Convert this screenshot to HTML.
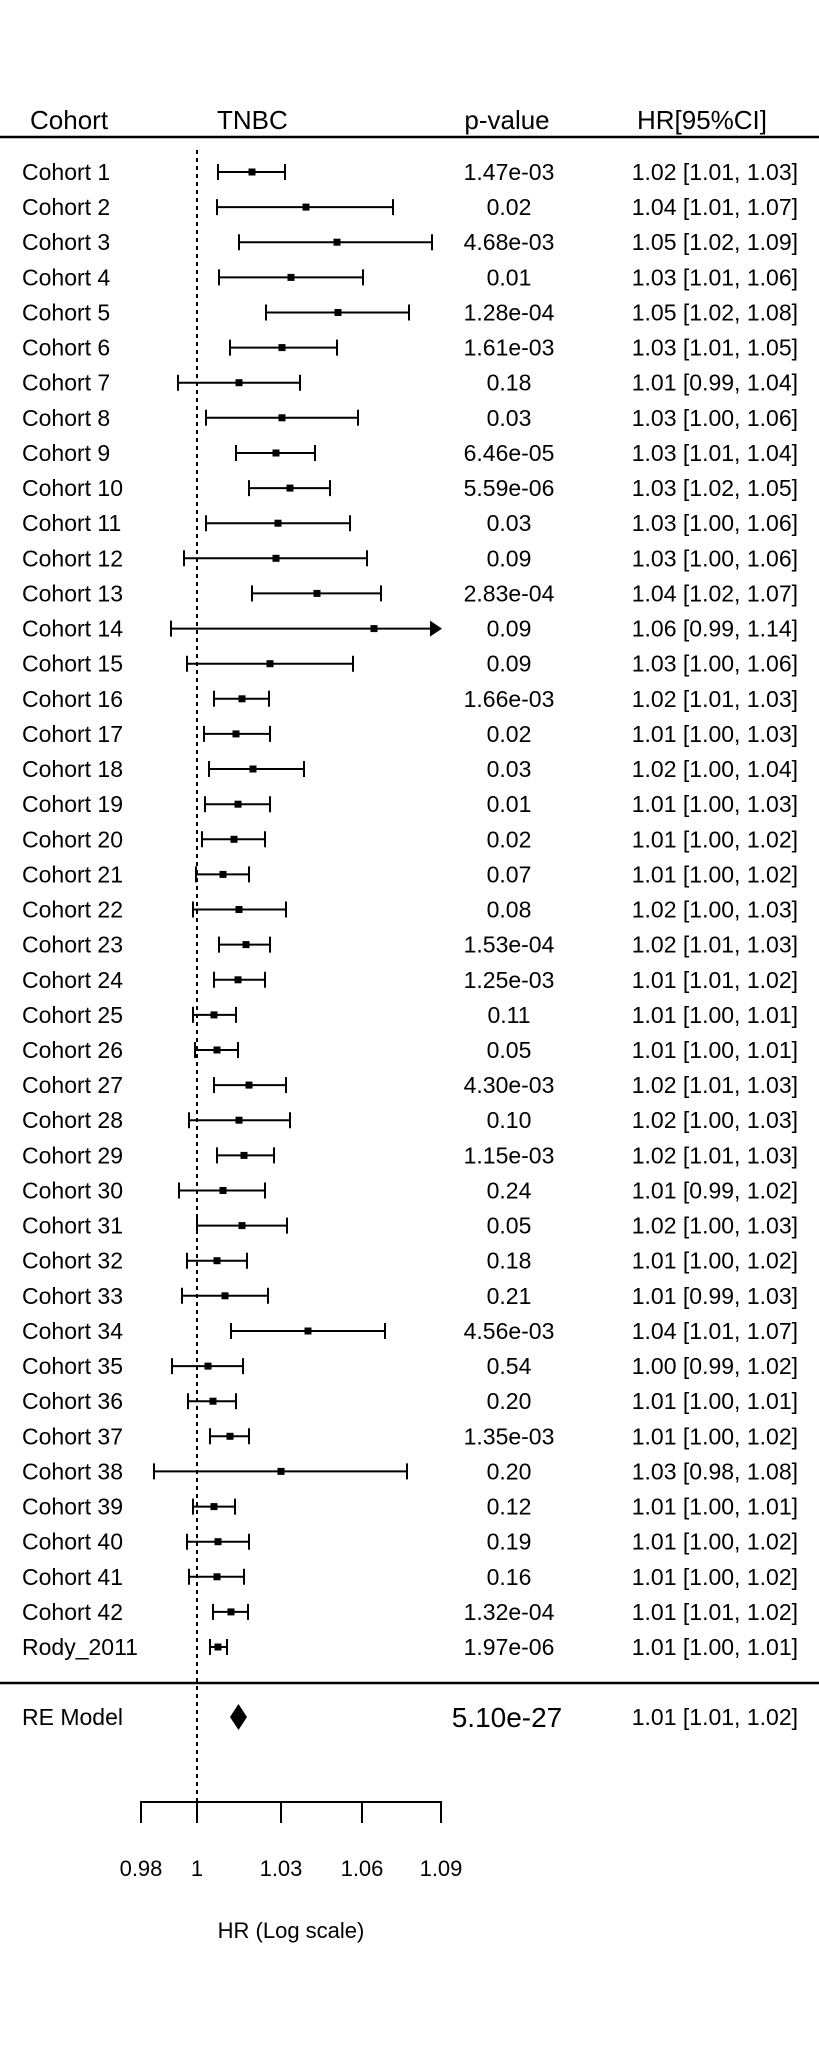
<!DOCTYPE html>
<html><head><meta charset="utf-8"><style>
html,body{margin:0;padding:0;background:#fff;}
svg{display:block;}
text{font-family:"Liberation Sans",Arial,sans-serif;fill:#000;font-size:23px;}
.p{text-anchor:middle;}
.h{text-anchor:end;}
path{stroke:#000;stroke-width:2;fill:none;}
</style></head><body>
<svg width="819" height="2048" viewBox="0 0 819 2048" xmlns="http://www.w3.org/2000/svg">
<g style="font-size:26px">
<text x="30" y="129" style="font-size:26px">Cohort</text>
<text x="217" y="129" style="font-size:26px">TNBC</text>
<text x="507" y="129" class="p" style="font-size:26px">p-value</text>
<text x="702" y="129" class="p" style="font-size:26px">HR[95%CI]</text>
</g>
<line x1="0" y1="137" x2="819" y2="137" stroke="#000" stroke-width="2.5"/>
<line x1="0" y1="1683" x2="819" y2="1683" stroke="#000" stroke-width="2.5"/>
<line x1="197" y1="150" x2="197" y2="1802" stroke="#000" stroke-width="2" stroke-dasharray="4,4"/>

<g transform="translate(0,172)"><text x="22" y="8">Cohort 1</text><text x="509" y="8" class="p">1.47e-03</text><text x="798" y="8" class="h">1.02 [1.01, 1.03]</text><path d="M218 -8V8M218 0H285M285 -8V8"/><rect x="248.5" y="-3.5" width="7" height="7"/></g>
<g transform="translate(0,207.1)"><text x="22" y="8">Cohort 2</text><text x="509" y="8" class="p">0.02</text><text x="798" y="8" class="h">1.04 [1.01, 1.07]</text><path d="M217 -8V8M217 0H393M393 -8V8"/><rect x="302.5" y="-3.5" width="7" height="7"/></g>
<g transform="translate(0,242.2)"><text x="22" y="8">Cohort 3</text><text x="509" y="8" class="p">4.68e-03</text><text x="798" y="8" class="h">1.05 [1.02, 1.09]</text><path d="M239 -8V8M239 0H432M432 -8V8"/><rect x="333.5" y="-3.5" width="7" height="7"/></g>
<g transform="translate(0,277.4)"><text x="22" y="8">Cohort 4</text><text x="509" y="8" class="p">0.01</text><text x="798" y="8" class="h">1.03 [1.01, 1.06]</text><path d="M219 -8V8M219 0H363M363 -8V8"/><rect x="287.5" y="-3.5" width="7" height="7"/></g>
<g transform="translate(0,312.5)"><text x="22" y="8">Cohort 5</text><text x="509" y="8" class="p">1.28e-04</text><text x="798" y="8" class="h">1.05 [1.02, 1.08]</text><path d="M266 -8V8M266 0H409M409 -8V8"/><rect x="334.5" y="-3.5" width="7" height="7"/></g>
<g transform="translate(0,347.6)"><text x="22" y="8">Cohort 6</text><text x="509" y="8" class="p">1.61e-03</text><text x="798" y="8" class="h">1.03 [1.01, 1.05]</text><path d="M230 -8V8M230 0H337M337 -8V8"/><rect x="278.5" y="-3.5" width="7" height="7"/></g>
<g transform="translate(0,382.7)"><text x="22" y="8">Cohort 7</text><text x="509" y="8" class="p">0.18</text><text x="798" y="8" class="h">1.01 [0.99, 1.04]</text><path d="M178 -8V8M178 0H300M300 -8V8"/><rect x="235.5" y="-3.5" width="7" height="7"/></g>
<g transform="translate(0,417.8)"><text x="22" y="8">Cohort 8</text><text x="509" y="8" class="p">0.03</text><text x="798" y="8" class="h">1.03 [1.00, 1.06]</text><path d="M206 -8V8M206 0H358M358 -8V8"/><rect x="278.5" y="-3.5" width="7" height="7"/></g>
<g transform="translate(0,453)"><text x="22" y="8">Cohort 9</text><text x="509" y="8" class="p">6.46e-05</text><text x="798" y="8" class="h">1.03 [1.01, 1.04]</text><path d="M236 -8V8M236 0H315M315 -8V8"/><rect x="272.5" y="-3.5" width="7" height="7"/></g>
<g transform="translate(0,488.1)"><text x="22" y="8">Cohort 10</text><text x="509" y="8" class="p">5.59e-06</text><text x="798" y="8" class="h">1.03 [1.02, 1.05]</text><path d="M249 -8V8M249 0H330M330 -8V8"/><rect x="286.5" y="-3.5" width="7" height="7"/></g>
<g transform="translate(0,523.2)"><text x="22" y="8">Cohort 11</text><text x="509" y="8" class="p">0.03</text><text x="798" y="8" class="h">1.03 [1.00, 1.06]</text><path d="M206 -8V8M206 0H350M350 -8V8"/><rect x="274.5" y="-3.5" width="7" height="7"/></g>
<g transform="translate(0,558.3)"><text x="22" y="8">Cohort 12</text><text x="509" y="8" class="p">0.09</text><text x="798" y="8" class="h">1.03 [1.00, 1.06]</text><path d="M184 -8V8M184 0H367M367 -8V8"/><rect x="272.5" y="-3.5" width="7" height="7"/></g>
<g transform="translate(0,593.4)"><text x="22" y="8">Cohort 13</text><text x="509" y="8" class="p">2.83e-04</text><text x="798" y="8" class="h">1.04 [1.02, 1.07]</text><path d="M252 -8V8M252 0H381M381 -8V8"/><rect x="313.5" y="-3.5" width="7" height="7"/></g>
<g transform="translate(0,628.6)"><text x="22" y="8">Cohort 14</text><text x="509" y="8" class="p">0.09</text><text x="798" y="8" class="h">1.06 [0.99, 1.14]</text><path d="M171 -8V8M171 0H432"/><polygon points="430,-8 442,0 430,8" fill="#000"/><rect x="370.5" y="-3.5" width="7" height="7"/></g>
<g transform="translate(0,663.7)"><text x="22" y="8">Cohort 15</text><text x="509" y="8" class="p">0.09</text><text x="798" y="8" class="h">1.03 [1.00, 1.06]</text><path d="M187 -8V8M187 0H353M353 -8V8"/><rect x="266.5" y="-3.5" width="7" height="7"/></g>
<g transform="translate(0,698.8)"><text x="22" y="8">Cohort 16</text><text x="509" y="8" class="p">1.66e-03</text><text x="798" y="8" class="h">1.02 [1.01, 1.03]</text><path d="M214 -8V8M214 0H269M269 -8V8"/><rect x="238.5" y="-3.5" width="7" height="7"/></g>
<g transform="translate(0,733.9)"><text x="22" y="8">Cohort 17</text><text x="509" y="8" class="p">0.02</text><text x="798" y="8" class="h">1.01 [1.00, 1.03]</text><path d="M204 -8V8M204 0H270M270 -8V8"/><rect x="232.5" y="-3.5" width="7" height="7"/></g>
<g transform="translate(0,769)"><text x="22" y="8">Cohort 18</text><text x="509" y="8" class="p">0.03</text><text x="798" y="8" class="h">1.02 [1.00, 1.04]</text><path d="M209 -8V8M209 0H304M304 -8V8"/><rect x="249.5" y="-3.5" width="7" height="7"/></g>
<g transform="translate(0,804.2)"><text x="22" y="8">Cohort 19</text><text x="509" y="8" class="p">0.01</text><text x="798" y="8" class="h">1.01 [1.00, 1.03]</text><path d="M205 -8V8M205 0H270M270 -8V8"/><rect x="234.5" y="-3.5" width="7" height="7"/></g>
<g transform="translate(0,839.3)"><text x="22" y="8">Cohort 20</text><text x="509" y="8" class="p">0.02</text><text x="798" y="8" class="h">1.01 [1.00, 1.02]</text><path d="M202 -8V8M202 0H265M265 -8V8"/><rect x="230.5" y="-3.5" width="7" height="7"/></g>
<g transform="translate(0,874.4)"><text x="22" y="8">Cohort 21</text><text x="509" y="8" class="p">0.07</text><text x="798" y="8" class="h">1.01 [1.00, 1.02]</text><path d="M196 -8V8M196 0H249M249 -8V8"/><rect x="219.5" y="-3.5" width="7" height="7"/></g>
<g transform="translate(0,909.5)"><text x="22" y="8">Cohort 22</text><text x="509" y="8" class="p">0.08</text><text x="798" y="8" class="h">1.02 [1.00, 1.03]</text><path d="M193 -8V8M193 0H286M286 -8V8"/><rect x="235.5" y="-3.5" width="7" height="7"/></g>
<g transform="translate(0,944.6)"><text x="22" y="8">Cohort 23</text><text x="509" y="8" class="p">1.53e-04</text><text x="798" y="8" class="h">1.02 [1.01, 1.03]</text><path d="M219 -8V8M219 0H270M270 -8V8"/><rect x="242.5" y="-3.5" width="7" height="7"/></g>
<g transform="translate(0,979.8)"><text x="22" y="8">Cohort 24</text><text x="509" y="8" class="p">1.25e-03</text><text x="798" y="8" class="h">1.01 [1.01, 1.02]</text><path d="M214 -8V8M214 0H265M265 -8V8"/><rect x="234.5" y="-3.5" width="7" height="7"/></g>
<g transform="translate(0,1014.9)"><text x="22" y="8">Cohort 25</text><text x="509" y="8" class="p">0.11</text><text x="798" y="8" class="h">1.01 [1.00, 1.01]</text><path d="M193 -8V8M193 0H236M236 -8V8"/><rect x="210.5" y="-3.5" width="7" height="7"/></g>
<g transform="translate(0,1050)"><text x="22" y="8">Cohort 26</text><text x="509" y="8" class="p">0.05</text><text x="798" y="8" class="h">1.01 [1.00, 1.01]</text><path d="M195 -8V8M195 0H238M238 -8V8"/><rect x="213.5" y="-3.5" width="7" height="7"/></g>
<g transform="translate(0,1085.1)"><text x="22" y="8">Cohort 27</text><text x="509" y="8" class="p">4.30e-03</text><text x="798" y="8" class="h">1.02 [1.01, 1.03]</text><path d="M214 -8V8M214 0H286M286 -8V8"/><rect x="245.5" y="-3.5" width="7" height="7"/></g>
<g transform="translate(0,1120.2)"><text x="22" y="8">Cohort 28</text><text x="509" y="8" class="p">0.10</text><text x="798" y="8" class="h">1.02 [1.00, 1.03]</text><path d="M189 -8V8M189 0H290M290 -8V8"/><rect x="235.5" y="-3.5" width="7" height="7"/></g>
<g transform="translate(0,1155.4)"><text x="22" y="8">Cohort 29</text><text x="509" y="8" class="p">1.15e-03</text><text x="798" y="8" class="h">1.02 [1.01, 1.03]</text><path d="M217 -8V8M217 0H274M274 -8V8"/><rect x="240.5" y="-3.5" width="7" height="7"/></g>
<g transform="translate(0,1190.5)"><text x="22" y="8">Cohort 30</text><text x="509" y="8" class="p">0.24</text><text x="798" y="8" class="h">1.01 [0.99, 1.02]</text><path d="M179 -8V8M179 0H265M265 -8V8"/><rect x="219.5" y="-3.5" width="7" height="7"/></g>
<g transform="translate(0,1225.6)"><text x="22" y="8">Cohort 31</text><text x="509" y="8" class="p">0.05</text><text x="798" y="8" class="h">1.02 [1.00, 1.03]</text><path d="M197 -8V8M197 0H287M287 -8V8"/><rect x="238.5" y="-3.5" width="7" height="7"/></g>
<g transform="translate(0,1260.7)"><text x="22" y="8">Cohort 32</text><text x="509" y="8" class="p">0.18</text><text x="798" y="8" class="h">1.01 [1.00, 1.02]</text><path d="M187 -8V8M187 0H247M247 -8V8"/><rect x="213.5" y="-3.5" width="7" height="7"/></g>
<g transform="translate(0,1295.8)"><text x="22" y="8">Cohort 33</text><text x="509" y="8" class="p">0.21</text><text x="798" y="8" class="h">1.01 [0.99, 1.03]</text><path d="M182 -8V8M182 0H268M268 -8V8"/><rect x="221.5" y="-3.5" width="7" height="7"/></g>
<g transform="translate(0,1331)"><text x="22" y="8">Cohort 34</text><text x="509" y="8" class="p">4.56e-03</text><text x="798" y="8" class="h">1.04 [1.01, 1.07]</text><path d="M231 -8V8M231 0H385M385 -8V8"/><rect x="304.5" y="-3.5" width="7" height="7"/></g>
<g transform="translate(0,1366.1)"><text x="22" y="8">Cohort 35</text><text x="509" y="8" class="p">0.54</text><text x="798" y="8" class="h">1.00 [0.99, 1.02]</text><path d="M172 -8V8M172 0H243M243 -8V8"/><rect x="204.5" y="-3.5" width="7" height="7"/></g>
<g transform="translate(0,1401.2)"><text x="22" y="8">Cohort 36</text><text x="509" y="8" class="p">0.20</text><text x="798" y="8" class="h">1.01 [1.00, 1.01]</text><path d="M188 -8V8M188 0H236M236 -8V8"/><rect x="209.5" y="-3.5" width="7" height="7"/></g>
<g transform="translate(0,1436.3)"><text x="22" y="8">Cohort 37</text><text x="509" y="8" class="p">1.35e-03</text><text x="798" y="8" class="h">1.01 [1.00, 1.02]</text><path d="M210 -8V8M210 0H249M249 -8V8"/><rect x="226.5" y="-3.5" width="7" height="7"/></g>
<g transform="translate(0,1471.4)"><text x="22" y="8">Cohort 38</text><text x="509" y="8" class="p">0.20</text><text x="798" y="8" class="h">1.03 [0.98, 1.08]</text><path d="M154 -8V8M154 0H407M407 -8V8"/><rect x="277.5" y="-3.5" width="7" height="7"/></g>
<g transform="translate(0,1506.6)"><text x="22" y="8">Cohort 39</text><text x="509" y="8" class="p">0.12</text><text x="798" y="8" class="h">1.01 [1.00, 1.01]</text><path d="M193 -8V8M193 0H235M235 -8V8"/><rect x="210.5" y="-3.5" width="7" height="7"/></g>
<g transform="translate(0,1541.7)"><text x="22" y="8">Cohort 40</text><text x="509" y="8" class="p">0.19</text><text x="798" y="8" class="h">1.01 [1.00, 1.02]</text><path d="M187 -8V8M187 0H249M249 -8V8"/><rect x="214.5" y="-3.5" width="7" height="7"/></g>
<g transform="translate(0,1576.8)"><text x="22" y="8">Cohort 41</text><text x="509" y="8" class="p">0.16</text><text x="798" y="8" class="h">1.01 [1.00, 1.02]</text><path d="M189 -8V8M189 0H244M244 -8V8"/><rect x="213.5" y="-3.5" width="7" height="7"/></g>
<g transform="translate(0,1611.9)"><text x="22" y="8">Cohort 42</text><text x="509" y="8" class="p">1.32e-04</text><text x="798" y="8" class="h">1.01 [1.01, 1.02]</text><path d="M213 -8V8M213 0H248M248 -8V8"/><rect x="227.5" y="-3.5" width="7" height="7"/></g>
<g transform="translate(0,1647)"><text x="22" y="8">Rody_2011</text><text x="509" y="8" class="p">1.97e-06</text><text x="798" y="8" class="h">1.01 [1.00, 1.01]</text><path d="M210 -8V8M210 0H227M227 -8V8"/><rect x="214.5" y="-3.5" width="7" height="7"/></g>

<g transform="translate(0,1717)"><text x="22" y="8">RE Model</text><text x="507" y="10" class="p" style="font-size:28px">5.10e-27</text><text x="798" y="8" class="h">1.01 [1.01, 1.02]</text><polygon points="230,0 238.5,-13 247,0 238.5,13" fill="#000"/></g>

<path d="M141 1823V1802H441V1823M197 1802V1823M281 1802V1823M362 1802V1823"/>
<g style="font-size:22px">
<text x="141" y="1876" class="p" style="font-size:22px">0.98</text>
<text x="197" y="1876" class="p" style="font-size:22px">1</text>
<text x="281" y="1876" class="p" style="font-size:22px">1.03</text>
<text x="362" y="1876" class="p" style="font-size:22px">1.06</text>
<text x="441" y="1876" class="p" style="font-size:22px">1.09</text>
<text x="291" y="1938" class="p" style="font-size:22px">HR (Log scale)</text>
</g>
</svg>
</body></html>
